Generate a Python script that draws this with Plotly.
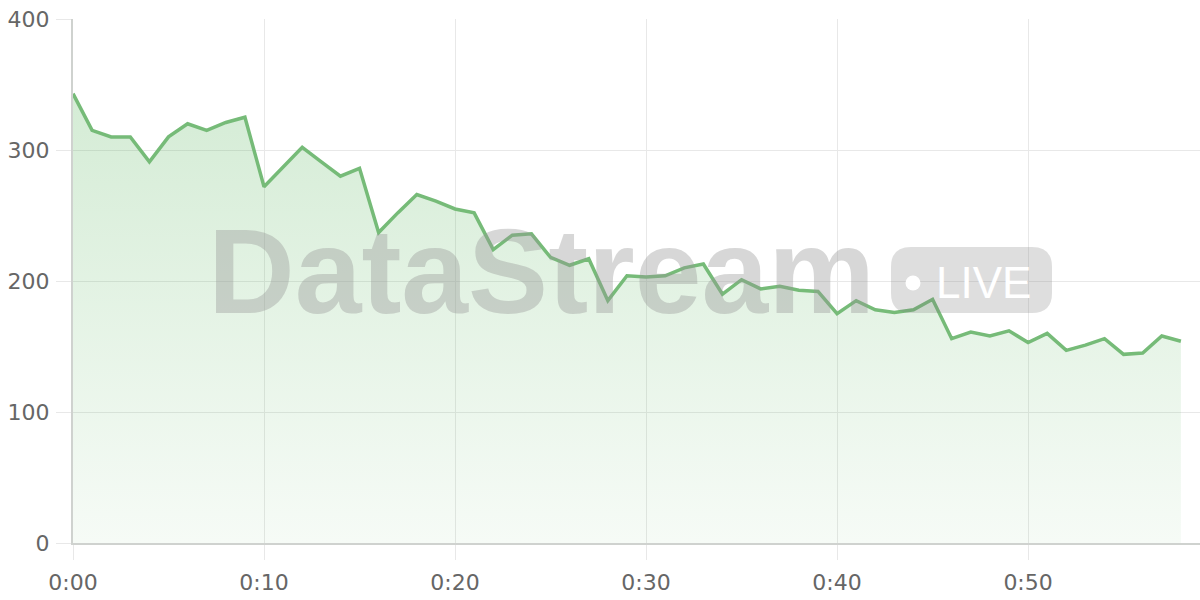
import plotly.graph_objects as go

# ---- data ----
minutes = list(range(59))
values = [343, 315, 310, 310, 291, 310, 320, 315, 321, 325,
          272, 287, 302, 291, 280, 286, 237, 252, 266, 261,
          255, 252, 224, 235, 236, 218, 212, 217, 185, 204,
          203, 204, 210, 213, 190, 201, 194, 196, 193, 192,
          175, 185, 178, 176, 178, 186, 156, 161, 158, 162,
          153, 160, 147, 151, 156, 144, 145, 158, 154]
x_tick_vals = [0, 10, 20, 30, 40, 50]
x_tick_text = ["0:00", "0:10", "0:20", "0:30", "0:40", "0:50"]
y_tick_vals = [0, 100, 200, 300, 400]
watermark_text = "DataStream"
badge_text = "LIVE"

LINE = "#76bb78"
GRID = "#e8e8e8"
AXIS = "#cfd2cf"
TICKFONT = dict(family="DejaVu Sans, sans-serif", size=22, color="#666666")

fig = go.Figure()
fig.add_trace(go.Scatter(
    x=minutes, y=values, mode="lines",
    line=dict(color=LINE, width=3.5),
    fill="tozeroy",
    fillgradient=dict(type="vertical", start=0, stop=400,
                      colorscale=[[0, "rgba(76,175,80,0.05)"], [1, "rgba(76,175,80,0.27)"]]),
    hoverinfo="skip", showlegend=False,
))

# plot-area pixel geometry helpers (paper coords)
L, T, W, H = 73, 19, 1127, 524
def px(xp):
    return (xp - L) / W
def py(yp):
    return 1 - (yp - T) / H

# badge (rounded rect) in pixel sizing around an anchor
bx0, bx1, by0, by1, r = 891, 1052, 247, 313, 20
cx, cy = (bx0 + bx1) / 2, (by0 + by1) / 2
hw, hh = (bx1 - bx0) / 2, (by1 - by0) / 2
path = (f"M {-hw + r},{-hh} L {hw - r},{-hh} Q {hw},{-hh} {hw},{-hh + r} "
        f"L {hw},{hh - r} Q {hw},{hh} {hw - r},{hh} L {-hw + r},{hh} "
        f"Q {-hw},{hh} {-hw},{hh - r} L {-hw},{-hh + r} Q {-hw},{-hh} {-hw + r},{-hh} Z")
fig.add_shape(type="path", xref="paper", yref="paper",
              xsizemode="pixel", ysizemode="pixel",
              xanchor=px(cx), yanchor=py(cy), path=path,
              fillcolor="rgba(128,128,128,0.26)", line=dict(width=0), layer="above")
dr = 7.5
fig.add_shape(type="circle", xref="paper", yref="paper",
              xsizemode="pixel", ysizemode="pixel",
              xanchor=px(913), yanchor=py(283),
              x0=-dr, x1=dr, y0=-dr, y1=dr,
              fillcolor="white", line=dict(width=0), layer="above")

fig.add_annotation(text=f"<b>{watermark_text}</b>", xref="paper", yref="paper",
                   x=px(206), y=py(271), xanchor="left", yanchor="middle",
                   showarrow=False,
                   font=dict(family="Liberation Sans, Arial, sans-serif", size=120,
                             color="rgba(150,150,150,0.38)"))
fig.add_annotation(text=badge_text, xref="paper", yref="paper",
                   x=px(934), y=py(282), xanchor="left", yanchor="middle",
                   showarrow=False,
                   font=dict(family="Liberation Sans, Arial, sans-serif", size=44,
                             color="white"))

fig.update_xaxes(range=[0, 59], tickmode="array", tickvals=x_tick_vals, ticktext=x_tick_text,
                 showgrid=True, gridcolor=GRID, gridwidth=1,
                 ticks="outside", ticklen=15, tickcolor=GRID, tickwidth=1,
                 ticklabelstandoff=4,
                 showline=True, linecolor=AXIS, linewidth=2,
                 zeroline=False, tickfont=TICKFONT, fixedrange=True)
fig.update_yaxes(range=[0, 400], tickmode="array", tickvals=y_tick_vals,
                 showgrid=True, gridcolor=GRID, gridwidth=1,
                 ticks="outside", ticklen=15, tickcolor=GRID, tickwidth=1,
                 ticklabelstandoff=2,
                 showline=True, linecolor=AXIS, linewidth=2,
                 zeroline=False, tickfont=TICKFONT, fixedrange=True)

fig.update_layout(width=1200, height=600,
                  margin=dict(l=L, r=0, t=T, b=600 - T - H),
                  paper_bgcolor="white", plot_bgcolor="white",
                  showlegend=False)

fig.write_html("out.html", config={"displayModeBar": False},
               post_script="document.body.style.margin='0px';document.body.style.overflow='hidden';")
